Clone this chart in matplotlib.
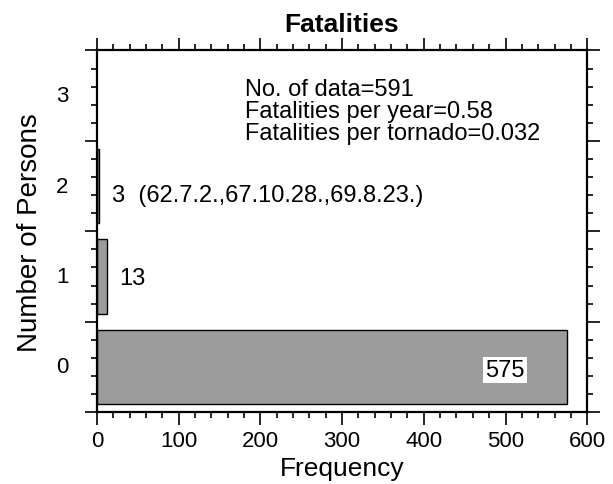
import numpy as np
import matplotlib.pyplot as plt
from matplotlib.ticker import MultipleLocator, FixedLocator

plt.rcParams['font.family'] = ['Liberation Sans', 'DejaVu Sans']

# Daten
persons = [0, 1, 2]
freq = [575, 13, 3]
bar_labels = ["575", "13", "3  (62.7.2.,67.10.28.,69.8.23.)"]
stats = ["No. of data=591", "Fatalities per year=0.58", "Fatalities per tornado=0.032"]

fig = plt.figure(figsize=(6.13, 4.85), dpi=100)
ax = fig.add_axes([0.158, 0.148, 0.8, 0.746])

ax.barh(persons, freq, height=0.82, color="#9c9c9c", edgecolor="black", linewidth=1.0)

ax.set_xlim(0, 600)
ax.set_ylim(-0.5, 3.5)

# Ticks
ax.xaxis.set_major_locator(MultipleLocator(100))
ax.xaxis.set_minor_locator(MultipleLocator(20))
ax.yaxis.set_major_locator(FixedLocator([-0.5, 0.5, 1.5, 2.5, 3.5]))
ax.yaxis.set_minor_locator(FixedLocator(np.arange(-0.5, 3.51, 0.2)))
ax.set_yticklabels([])
for p in [0, 1, 2, 3]:
    ax.text(-0.071, p, str(p), transform=ax.get_yaxis_transform(), ha="center", va="center", fontsize=16)

ax.tick_params(which="both", direction="out", top=True, right=True, width=1.2, labelsize=16)
ax.tick_params(which="major", length=9)
ax.tick_params(which="minor", length=4.5)
for s in ax.spines.values():
    s.set_linewidth(1.6)

# Beschriftungen an den Balken
ax.text(475, -0.03, bar_labels[0], fontsize=17, va="center", ha="left",
        bbox=dict(facecolor="white", edgecolor="none", pad=1.5))
ax.text(28, 0.98, bar_labels[1], fontsize=17, va="center", ha="left")
ax.text(19, 1.9, bar_labels[2], fontsize=17, va="center", ha="left")

ax.text(0.302, 0.925, "\n".join(stats), transform=ax.transAxes, fontsize=17,
        va="top", ha="left", linespacing=1.0)

ax.set_xlabel("Frequency", fontsize=19, labelpad=4)
ax.set_ylabel("Number of Persons", fontsize=20, labelpad=26)
ax.set_title("Fatalities", fontsize=19, fontweight="bold", pad=14)

fig.savefig("out.png", dpi=100)
